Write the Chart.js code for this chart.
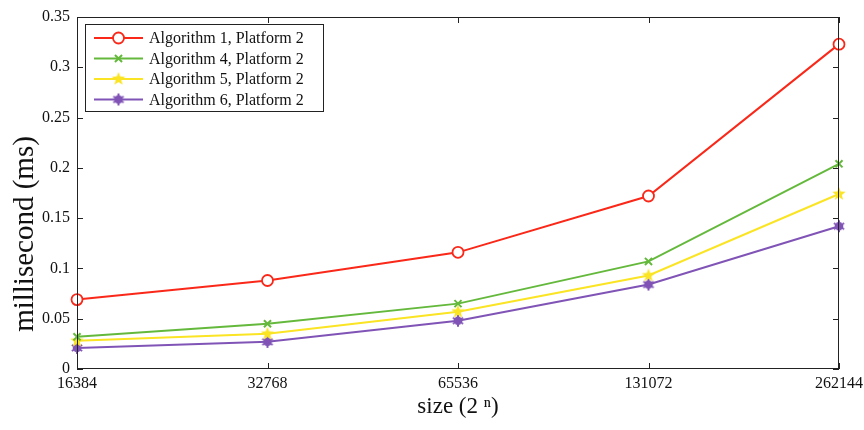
<!DOCTYPE html>
<html>
<head>
<meta charset="utf-8">
<script src="https://cdn.jsdelivr.net/npm/chart.js@4"></script>
<style>
  html, body { margin: 0; padding: 0; background: #fff; }
  #wrap { width: 864px; height: 430px; }
</style>
</head>
<body>
<div id="wrap"><canvas id="perfChart" width="864" height="430"></canvas></div>
<script>
var sizes = ['16384', '32768', '65536', '131072', '262144'];
var yTicks = [0, 0.05, 0.1, 0.15, 0.2, 0.25, 0.3, 0.35];

var algo1 = [0.069, 0.088, 0.116, 0.172, 0.323];
var algo4 = [0.032, 0.045, 0.065, 0.107, 0.204];
var algo5 = [0.028, 0.035, 0.057, 0.093, 0.174];
var algo6 = [0.021, 0.027, 0.048, 0.084, 0.142];

var FONT = "'Liberation Serif', 'DejaVu Serif', serif";
var INK = '#222';

// filled five point star for algorithm 5
function makeStar(color, r) {
    var c = document.createElement('canvas');
    c.width = c.height = r * 2 + 2;
    var g = c.getContext('2d');
    g.fillStyle = color;
    g.beginPath();
    for (var i = 0; i < 10; i++) {
        var rad = i % 2 === 0 ? r : r * 0.42;
        var a = -Math.PI / 2 + i * Math.PI / 5;
        g.lineTo(r + 1 + rad * Math.cos(a), r + 1 + rad * Math.sin(a));
    }
    g.closePath();
    g.fill();
    return c;
}

// six point asterisk blob for algorithm 6
function makeBlob(color, r) {
    var c = document.createElement('canvas');
    c.width = c.height = r * 2 + 2;
    var g = c.getContext('2d');
    g.fillStyle = color;
    g.strokeStyle = color;
    g.lineWidth = 2;
    g.beginPath();
    g.arc(r + 1, r + 1, r * 0.72, 0, Math.PI * 2);
    g.fill();
    for (var i = 0; i < 6; i++) {
        var a = i * Math.PI / 3 + Math.PI / 6;
        g.beginPath();
        g.moveTo(r + 1, r + 1);
        g.lineTo(r + 1 + r * Math.cos(a), r + 1 + r * Math.sin(a));
        g.stroke();
    }
    return c;
}

var RED = 'rgb(250, 40, 25)';
var GREEN = 'rgb(100, 185, 60)';
var YELLOW = 'rgb(250, 228, 35)';
var PURPLE = 'rgb(128, 84, 182)';

var starImg = makeStar(YELLOW, 7);
var blobImg = makeBlob(PURPLE, 6);

var frame = {
    id: 'frame',
    afterDraw: function(chart) {
        var ctx = chart.ctx;
        var a = chart.chartArea;
        var xs = chart.scales.x, ys = chart.scales.y;
        var tl = 6;
        ctx.save();
        ctx.strokeStyle = INK;
        ctx.lineWidth = 1;
        ctx.strokeRect(a.left + 0.5, a.top + 0.5, a.right - a.left - 1, a.bottom - a.top - 1);
        ctx.beginPath();
        xs.ticks.forEach(function(t, i) {
            var px = Math.round(xs.getPixelForTick(i)) + 0.5;
            ctx.moveTo(px, a.bottom); ctx.lineTo(px, a.bottom - tl);
            ctx.moveTo(px, a.top); ctx.lineTo(px, a.top + tl);
        });
        ys.ticks.forEach(function(t) {
            var py = Math.round(ys.getPixelForValue(t.value)) + 0.5;
            ctx.moveTo(a.left, py); ctx.lineTo(a.left + tl, py);
            ctx.moveTo(a.right, py); ctx.lineTo(a.right - tl, py);
        });
        ctx.stroke();

        // y axis title, drawn by hand to sit where the original has it
        ctx.fillStyle = '#111';
        ctx.font = '29px ' + FONT;
        ctx.textAlign = 'center';
        ctx.textBaseline = 'middle';
        ctx.translate(25, 234);
        ctx.rotate(-Math.PI / 2);
        ctx.fillText('millisecond (ms)', 0, 0);
        ctx.restore();

        // legend box in the top left corner
        ctx.save();
        var bx = 85, by = 24, bw = 238, bh = 87;
        ctx.fillStyle = '#fff';
        ctx.fillRect(bx, by, bw, bh);
        ctx.strokeStyle = INK;
        ctx.strokeRect(bx + 0.5, by + 0.5, bw, bh);
        ctx.font = '16px ' + FONT;
        ctx.textBaseline = 'middle';
        ctx.textAlign = 'left';
        chart.data.datasets.forEach(function(ds, i) {
            var y = by + 14 + i * 20.5;
            ctx.strokeStyle = ds.borderColor;
            ctx.lineWidth = 2;
            ctx.beginPath();
            ctx.moveTo(94, y); ctx.lineTo(143, y);
            ctx.stroke();
            ctx.fillStyle = ds.pointBackgroundColor;
            ctx.strokeStyle = ds.borderColor;
            ctx.lineWidth = ds.pointBorderWidth;
            Chart.helpers.drawPoint(ctx, {
                pointStyle: ds.pointStyle,
                radius: ds.pointRadius,
                borderWidth: ds.pointBorderWidth,
                rotation: 0
            }, 118.5, y);
            ctx.fillStyle = '#111';
            ctx.fillText(ds.label, 149, y + 1);
        });
        ctx.restore();
    }
};

var ctx = document.getElementById('perfChart').getContext('2d');
var perfChart = new Chart(ctx, {
    type: 'line',
    data: {
        labels: sizes,
        datasets: [{
            label: 'Algorithm 1, Platform 2',
            data: algo1,
            borderColor: RED,
            pointBackgroundColor: '#fff',
            pointBorderColor: RED,
            pointStyle: 'circle',
            pointRadius: 5.5,
            pointBorderWidth: 1.8
        }, {
            label: 'Algorithm 4, Platform 2',
            data: algo4,
            borderColor: GREEN,
            pointBackgroundColor: GREEN,
            pointBorderColor: GREEN,
            pointStyle: 'crossRot',
            pointRadius: 5,
            pointBorderWidth: 2
        }, {
            label: 'Algorithm 5, Platform 2',
            data: algo5,
            borderColor: YELLOW,
            pointBackgroundColor: YELLOW,
            pointBorderColor: YELLOW,
            pointStyle: starImg,
            pointRadius: 7,
            pointBorderWidth: 1
        }, {
            label: 'Algorithm 6, Platform 2',
            data: algo6,
            borderColor: PURPLE,
            pointBackgroundColor: PURPLE,
            pointBorderColor: PURPLE,
            pointStyle: blobImg,
            pointRadius: 6,
            pointBorderWidth: 1
        }]
    },
    options: {
        responsive: false,
        animation: false,
        devicePixelRatio: 1,
        layout: { padding: { top: 17, right: 25, left: 0, bottom: 0 } },
        elements: {
            line: { borderWidth: 2, tension: 0, fill: false },
            point: { hoverRadius: 5 }
        },
        scales: {
            x: {
                type: 'category',
                offset: false,
                grid: { display: false, drawTicks: false },
                border: { display: false },
                ticks: {
                    color: '#111',
                    padding: 5,
                    maxRotation: 0,
                    autoSkip: false,
                    font: { family: FONT, size: 16 }
                },
                title: {
                    display: true,
                    text: 'size (2 \u207F)',
                    color: '#111',
                    padding: { top: 0, bottom: 9 },
                    font: { family: FONT, size: 23 }
                },
                afterFit: function(scale) {
                    scale.height = 61;
                    scale.paddingLeft = 0;
                    scale.paddingRight = 0;
                }
            },
            y: {
                min: 0,
                max: 0.35,
                grid: { display: false, drawTicks: false },
                border: { display: false },
                afterBuildTicks: function(scale) {
                    scale.ticks = yTicks.map(function(v) { return { value: v }; });
                },
                ticks: {
                    color: '#111',
                    padding: 7,
                    font: { family: FONT, size: 16 },
                    callback: function(v) { return String(Number(v.toFixed(2))); }
                },
                afterFit: function(scale) {
                    scale.width = 77;
                    scale.paddingTop = 0;
                    scale.paddingBottom = 0;
                }
            }
        },
        plugins: {
            legend: { display: false },
            tooltip: { enabled: false }
        }
    },
    plugins: [frame]
});
</script>
</body>
</html>
